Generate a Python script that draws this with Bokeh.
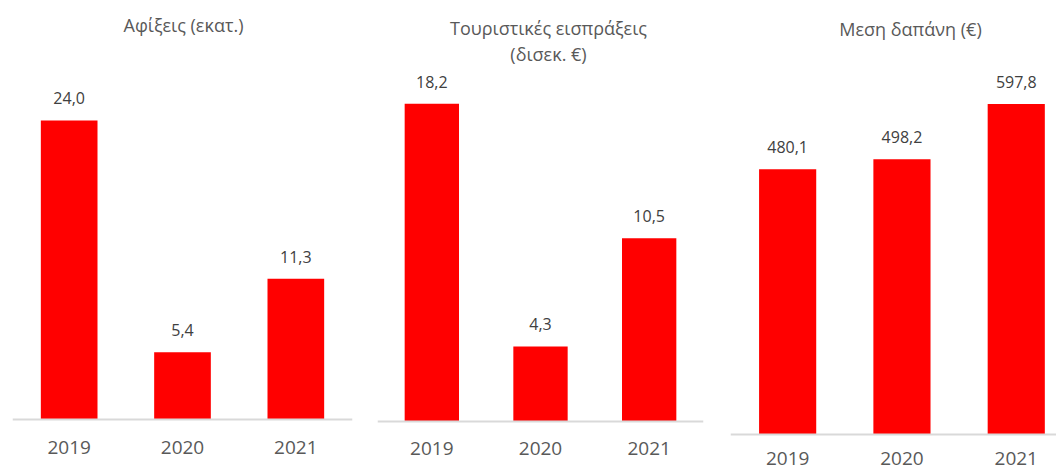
from bokeh.plotting import figure
from bokeh.layouts import row
from bokeh.models import Range1d, Label, ColumnDataSource, Span
from bokeh.core.properties import value
from bokeh.embed import file_html
from bokeh.resources import INLINE

years = ["2019", "2020", "2021"]
arrivals = [24.0, 5.4, 11.3]
receipts = [18.2, 4.3, 10.5]
spending = [480.1, 498.2, 597.8]
arrivals_labels = ["24,0", "5,4", "11,3"]
receipts_labels = ["18,2", "4,3", "10,5"]
spending_labels = ["480,1", "498,2", "597,8"]

titles = [["Αφίξεις (εκατ.)"], ["Τουριστικές εισπράξεις", "(δισεκ. €)"], ["Μεση δαπάνη (€)"]]

FONT = "Open Sans"
RED = "#ff0000"
TXT = "#595959"
H = 470


def panel(values, labels, title_lines, width, mbl, mbr, base, px_per_unit,
          xmax, year_offset, title_top, title_dx):
    p = figure(width=width, height=H, output_backend="svg", toolbar_location=None,
               x_range=Range1d(-0.5, xmax),
               y_range=Range1d(-(H - base) / px_per_unit, base / px_per_unit),
               x_axis_location=None, y_axis_location=None,
               min_border_left=mbl, min_border_right=mbr, min_border_top=0, min_border_bottom=0)
    p.outline_line_color = None
    p.background_fill_color = "white"
    p.border_fill_color = "white"
    p.grid.visible = False
    xs = list(range(len(years)))
    src = ColumnDataSource(dict(x=xs, top=values, lab=labels, year=years))
    p.vbar(x="x", top="top", width=0.5, bottom=0, source=src, fill_color=RED, line_color=RED, line_width=0)
    p.add_layout(Span(location=0, dimension="width", line_color="#d9d9d9", line_width=2))
    p.text(x="x", y="top", text="lab", source=src, text_align="center", text_baseline="middle",
           y_offset=-22, text_font=value(FONT), text_font_size="16px", text_color="#404040")
    p.text(x="x", y=0, text="year", source=src, text_align="center", text_baseline="middle",
           y_offset=year_offset, text_font=value(FONT), text_font_size="19px", text_color=TXT)
    for i, line in enumerate(title_lines):
        p.add_layout(Label(x=title_dx, y=H - title_top - i * 26, x_units="screen", y_units="screen",
                           text=line, text_align="center", text_baseline="middle",
                           text_font=FONT, text_font_size="18px", text_color=TXT))
    return p


# panel 1: figure 0..365, frame 12..352, baseline 419
p1 = panel(arrivals, arrivals_labels, titles[0], width=365, mbl=12, mbr=13, base=419,
           px_per_unit=12.46, xmax=2.5, year_offset=28, title_top=24, title_dx=171)
# panel 2: figure 365..720, frame 377..703, baseline 421
p2 = panel(receipts, receipts_labels, titles[1], width=355, mbl=12, mbr=17, base=421,
           px_per_unit=17.46, xmax=2.5, year_offset=27, title_top=27, title_dx=171)
# panel 3: figure 720..1056, frame 730..1056, baseline 434
p3 = panel(spending, spending_labels, titles[2], width=336, mbl=10, mbr=0, base=434,
           px_per_unit=0.5527, xmax=-0.5 + 326 / 114.3, year_offset=24, title_top=28, title_dx=180)

layout = row(p1, p2, p3)
open("out.html", "w").write(file_html(layout, INLINE))
